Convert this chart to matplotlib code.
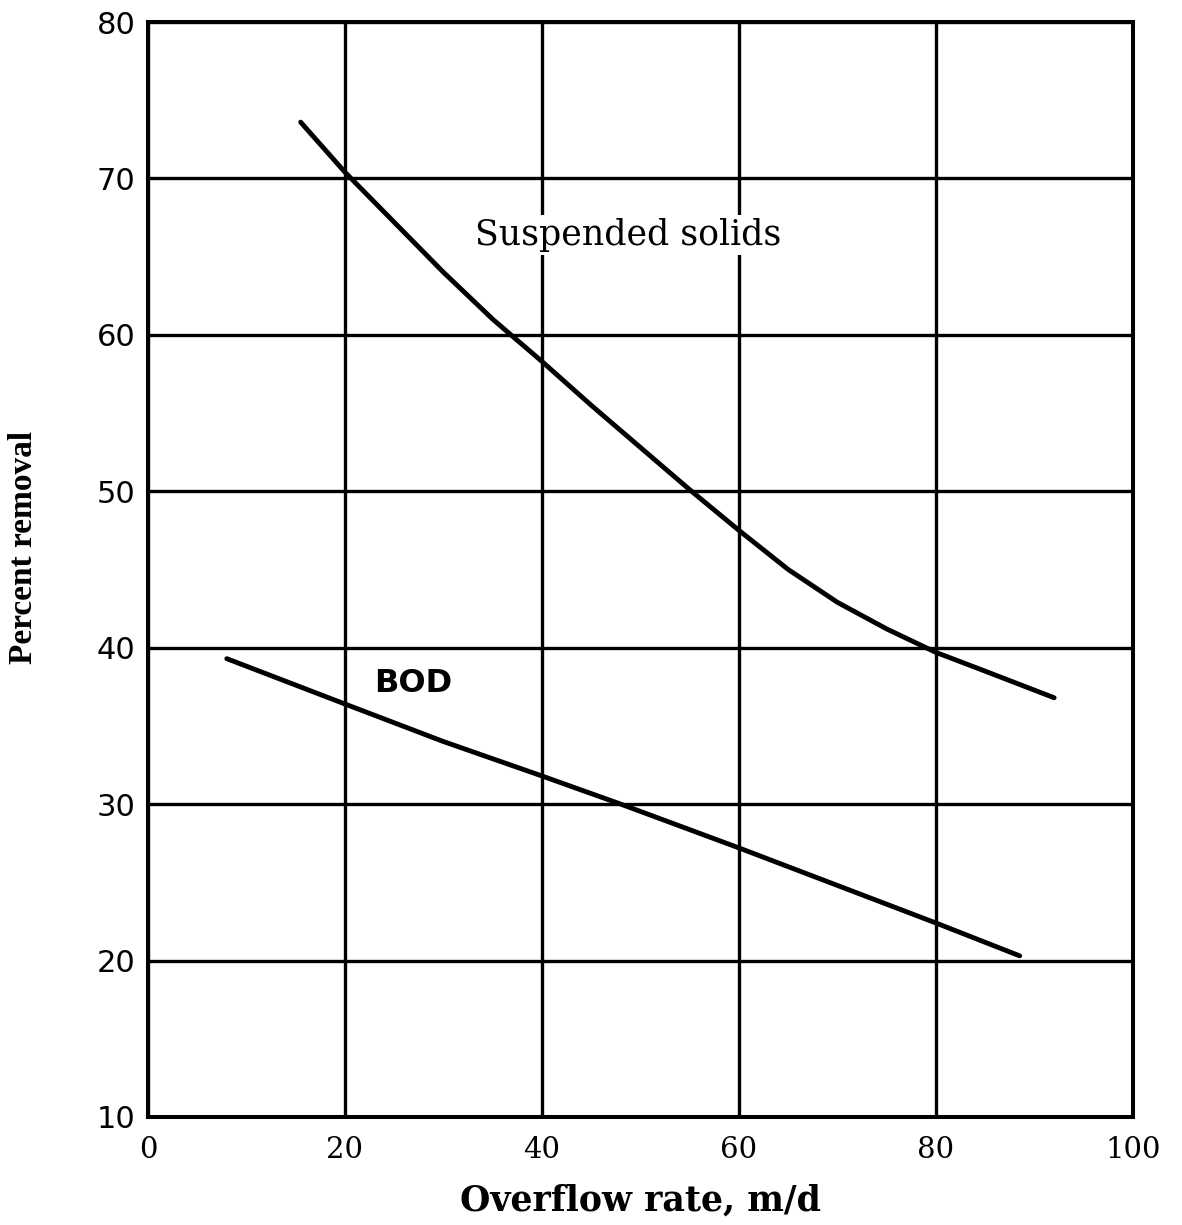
import matplotlib
matplotlib.use("Agg")
import matplotlib.pyplot as plt

# values
ss_rate = [15.5, 20, 25, 30, 35, 40, 45, 50, 55, 60, 65, 70, 75, 80, 85, 92]
ss_removal = [73.6, 70.4, 67.2, 64.0, 61.0, 58.3, 55.5, 52.8, 50.1, 47.5,
              45.0, 42.9, 41.2, 39.7, 38.5, 36.8]

bod_rate = [8, 20, 30, 40, 48, 60, 70, 80, 88.5]
bod_removal = [39.3, 36.4, 34.0, 31.8, 30.0, 27.2, 24.8, 22.4, 20.3]

x_ticks = [0, 20, 40, 60, 80, 100]
y_ticks = [10, 20, 30, 40, 50, 60, 70, 80]

fig = plt.figure(figsize=(11.82, 12.25), dpi=100)
ax = fig.add_axes([0.1252, 0.0882, 0.8333, 0.8938])

ax.set_xlim(0, 100)
ax.set_ylim(10, 80)
ax.set_xticks(x_ticks)
ax.set_yticks(y_ticks)
ax.grid(True, color="black", linewidth=2.4)
ax.set_axisbelow(True)
for s in ax.spines.values():
    s.set_linewidth(2.9)
ax.tick_params(length=0)
ax.tick_params(axis="x", pad=14)
ax.tick_params(axis="y", pad=9)
for lab in ax.get_xticklabels():
    lab.set_fontfamily("DejaVu Serif")
    lab.set_fontsize(21)
for lab in ax.get_yticklabels():
    lab.set_fontfamily("DejaVu Sans")
    lab.set_fontsize(22)

ax.plot(ss_rate, ss_removal, color="black", linewidth=3.5, solid_capstyle="round")
ax.plot(bod_rate, bod_removal, color="black", linewidth=3.5, solid_capstyle="round")

# the labels blank out the grid behind them, as in the print
ax.text(48.7, 66.4, "Suspended solids", fontsize=25, family="DejaVu Serif",
        ha="center", va="center",
        bbox=dict(facecolor="white", edgecolor="none", pad=2))
ax.text(26.9, 37.7, "BOD", fontsize=23, family="DejaVu Sans", weight="bold",
        ha="center", va="center",
        bbox=dict(facecolor="white", edgecolor="none", pad=1))

ax.set_xlabel("Overflow rate, m/d", fontsize=25, family="DejaVu Serif",
              weight="bold", labelpad=14)
ax.set_ylabel("Percent removal", fontsize=24, family="Liberation Serif",
              weight="bold")
ax.yaxis.set_label_coords(-0.111, 0.52)

fig.savefig("out.png", dpi=100, facecolor="white")
